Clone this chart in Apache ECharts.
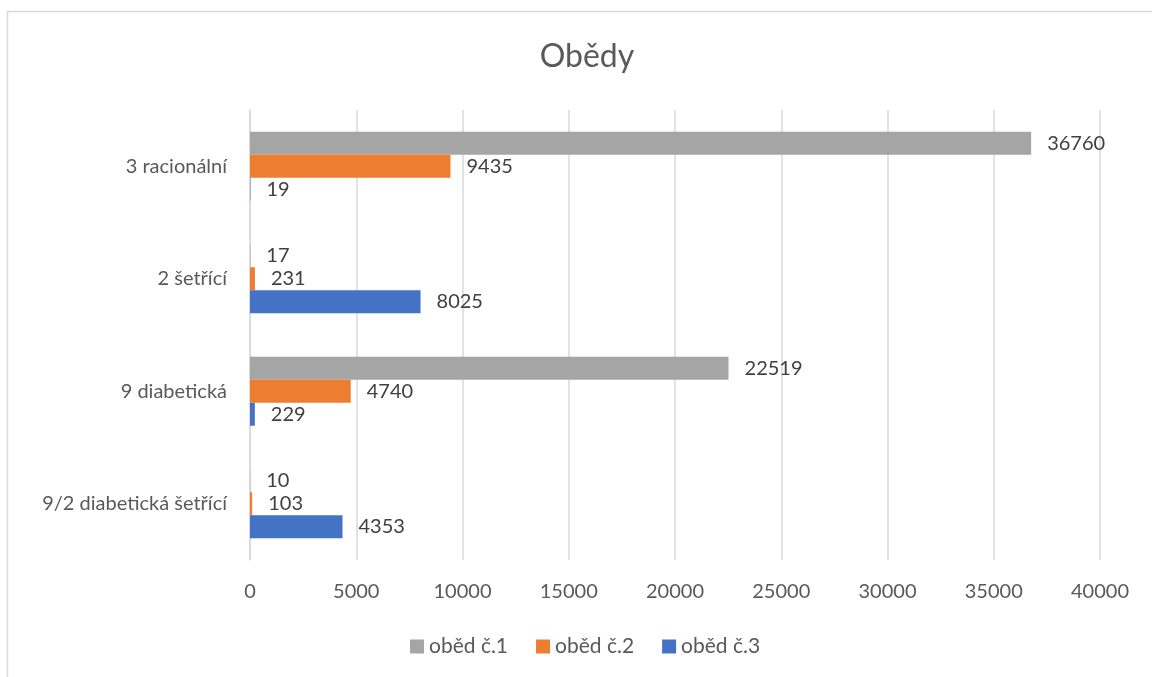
<!DOCTYPE html>
<html>
<head>
<meta charset="utf-8">
<script src="https://cdn.jsdelivr.net/npm/echarts@6/dist/echarts.min.js"></script>
<style>
html,body{margin:0;padding:0;background:#fff;}
#c{width:1152px;height:677px;}
</style>
</head>
<body>
<div id="c"></div>
<script>
const title = 'Obědy';
const categories = ['3 racionální', '2 šetřící', '9 diabetická', '9/2 diabetická šetřící'];
const seriesNames = ['oběd č.1', 'oběd č.2', 'oběd č.3'];
const obed1 = [36760, 17, 22519, 10];
const obed2 = [9435, 231, 4740, 103];
const obed3 = [19, 8025, 229, 4353];
const xTicks = { min: 0, max: 40000, interval: 5000 };

const colors = ['#A5A5A5', '#ED7D31', '#4472C4'];
const FONT = 'Lato, "Noto Sans", sans-serif';
const values = [obed1, obed2, obed3];

const chart = echarts.init(document.getElementById('c'), null, { renderer: 'canvas' });
chart.setOption({
  animation: false,
  backgroundColor: '#fff',
  textStyle: { fontFamily: FONT },
  graphic: [{
    type: 'rect',
    shape: { x: 7.5, y: 11.5, width: 1300, height: 800 },
    style: { fill: null, stroke: '#D9D9D9', lineWidth: 1.5 },
    silent: true, z: -1
  }],
  title: {
    text: title,
    left: 582, top: 36, textAlign: 'center',
    textStyle: { fontFamily: FONT, fontSize: 32, fontWeight: 'normal', color: '#595959' }
  },
  legend: {
    data: seriesNames,
    left: 405, top: 631,
    itemWidth: 14, itemHeight: 14, itemGap: 28,
    icon: 'rect',
    textStyle: { fontFamily: FONT, fontSize: 21, color: '#595959' }
  },
  grid: { left: 250, right: 52, top: 110, bottom: 117, containLabel: false },
  xAxis: {
    type: 'value',
    min: xTicks.min, max: xTicks.max, interval: xTicks.interval,
    axisLine: { show: false },
    axisTick: { show: false },
    axisLabel: { fontFamily: FONT, fontSize: 20, color: '#595959', margin: 22, formatter: v => String(v) },
    splitLine: { show: true, lineStyle: { color: '#D9D9D9', width: 1.5 } }
  },
  yAxis: {
    type: 'category',
    data: categories,
    inverse: true,
    axisLine: { show: true, lineStyle: { color: '#D9D9D9', width: 1.5 } },
    axisTick: { show: false },
    axisLabel: { fontFamily: FONT, fontSize: 20, color: '#595959', margin: 23 }
  },
  series: seriesNames.map((n, i) => ({
    name: n,
    type: 'bar',
    data: values[i],
    barWidth: 23,
    barGap: '0%',
    itemStyle: { color: colors[i] },
    label: {
      show: true, position: 'right', distance: 16,
      fontFamily: FONT, fontSize: 20, color: '#404040'
    }
  }))
});
</script>
</body>
</html>
